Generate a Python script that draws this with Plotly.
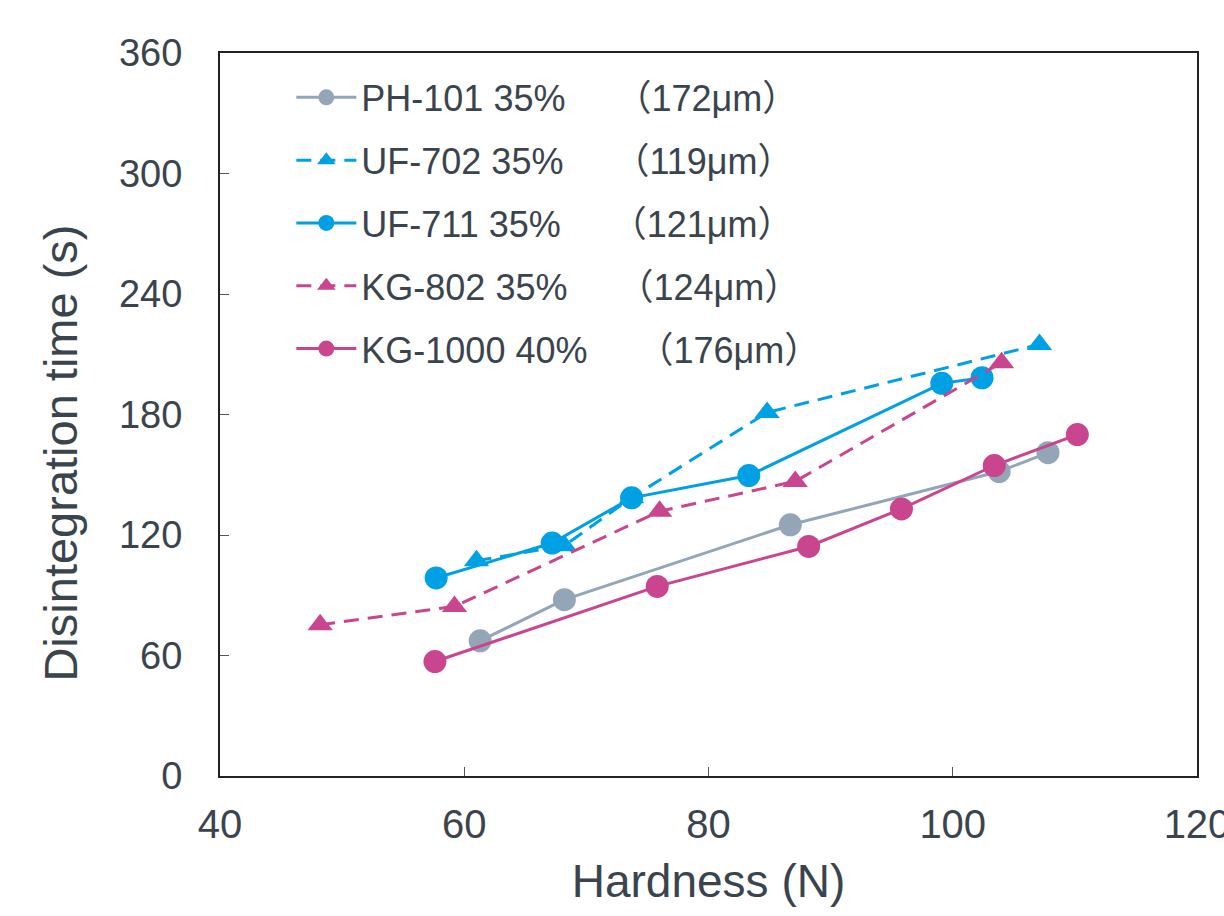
import plotly.graph_objects as go

# ---- data ----
ph101_x = [61.3, 68.2, 86.7, 103.8, 107.8]
ph101_y = [67.3, 87.8, 125.1, 151.6, 161.0]

uf702_x = [61.0, 68.2, 73.7, 84.8, 107.1]
uf702_y = [107.2, 114.7, 138.6, 181.0, 214.9]

uf711_x = [57.7, 67.2, 73.7, 83.3, 99.1, 102.4]
uf711_y = [98.6, 116.0, 138.5, 149.6, 195.5, 198.3]

kg802_x = [48.2, 59.2, 76.0, 87.1, 104.0]
kg802_y = [75.3, 84.4, 131.8, 146.7, 205.8]

kg1000_x = [57.6, 75.8, 88.2, 95.8, 103.4, 110.2]
kg1000_y = [57.0, 94.4, 114.3, 133.0, 154.6, 170.0]

NB = "\u00a0"
series_names = [
    "PH-101 35%" + NB * 5 + "（172μm）",
    "UF-702 35%" + NB * 5 + "（119μm）",
    "UF-711 35%" + NB * 5 + "（121μm）",
    "KG-802 35%" + NB * 5 + "（124μm）",
    "KG-1000 40%" + NB * 5 + "（176μm）",
]

x_ticks = [40, 60, 80, 100, 120]
y_ticks = [0, 60, 120, 180, 240, 300, 360]

x_title = "Hardness (N)"
y_title = "Disintegration time (s)"

GRAY = "#93A6B8"
BLUE = "#00A0E4"
MAGENTA = "#C9468E"
TEXT = "#3A444D"
FONT = "Liberation Sans, Arial, Noto Sans CJK SC, sans-serif"

fig = go.Figure()

specs = [
    (ph101_x, ph101_y, series_names[0], GRAY, "solid", "circle"),
    (uf702_x, uf702_y, series_names[1], BLUE, "dash", "triangle-up"),
    (uf711_x, uf711_y, series_names[2], BLUE, "solid", "circle"),
    (kg802_x, kg802_y, series_names[3], MAGENTA, "dash", "triangle-up"),
    (kg1000_x, kg1000_y, series_names[4], MAGENTA, "solid", "circle"),
]
for i, (xs, ys, name, color, dash, sym) in enumerate(specs):
    fig.add_trace(go.Scatter(
        x=xs, y=ys, name=name, mode="lines+markers",
        legendgroup=f"g{i}",
        line=dict(color=color, width=3, dash="15px,9px" if dash == "dash" else "solid"),
        marker=dict(symbol=sym, size=23 if sym == "circle" else 22, color=color,
                    line=dict(width=0)),
    ))

fig.update_layout(
    width=1224, height=916,
    margin=dict(l=220, r=27, t=53, b=140),
    paper_bgcolor="white", plot_bgcolor="white",
    font=dict(family=FONT, color=TEXT, size=36),
    showlegend=True,
    legend=dict(
        x=0.073, y=0.980, xanchor="left", yanchor="top",
        bgcolor="rgba(0,0,0,0)", borderwidth=0,
        font=dict(family=FONT, size=36, color=TEXT),
        tracegroupgap=13, itemwidth=60,
    ),
    xaxis=dict(
        range=[40, 120], tickvals=x_ticks, ticktext=[str(v) for v in x_ticks],
        showgrid=False, zeroline=False, automargin=False,
        showline=True, linecolor="#222222", linewidth=2, mirror=True,
        ticks="inside", ticklen=9, tickwidth=1, tickcolor="#555555",
        tickfont=dict(family=FONT, size=40, color=TEXT),
        ticklabelstandoff=12, ticklabeloverflow="allow",
        title=dict(text=x_title, font=dict(family=FONT, size=46, color=TEXT), standoff=20),
    ),
    yaxis=dict(
        range=[0, 360], tickvals=y_ticks, ticktext=[str(v) for v in y_ticks],
        showgrid=False, zeroline=False, automargin=False,
        showline=True, linecolor="#222222", linewidth=2, mirror=True,
        ticks="inside", ticklen=9, tickwidth=1, tickcolor="#555555",
        tickfont=dict(family=FONT, size=38, color=TEXT),
        ticklabelstandoff=28,
    ),
    annotations=[dict(
        text=y_title, textangle=-90, showarrow=False,
        xref="paper", yref="paper", x=-0.163, y=0.447,
        xanchor="center", yanchor="middle",
        font=dict(family=FONT, size=47, color=TEXT),
    )],
)

fig.write_html("out.html")
